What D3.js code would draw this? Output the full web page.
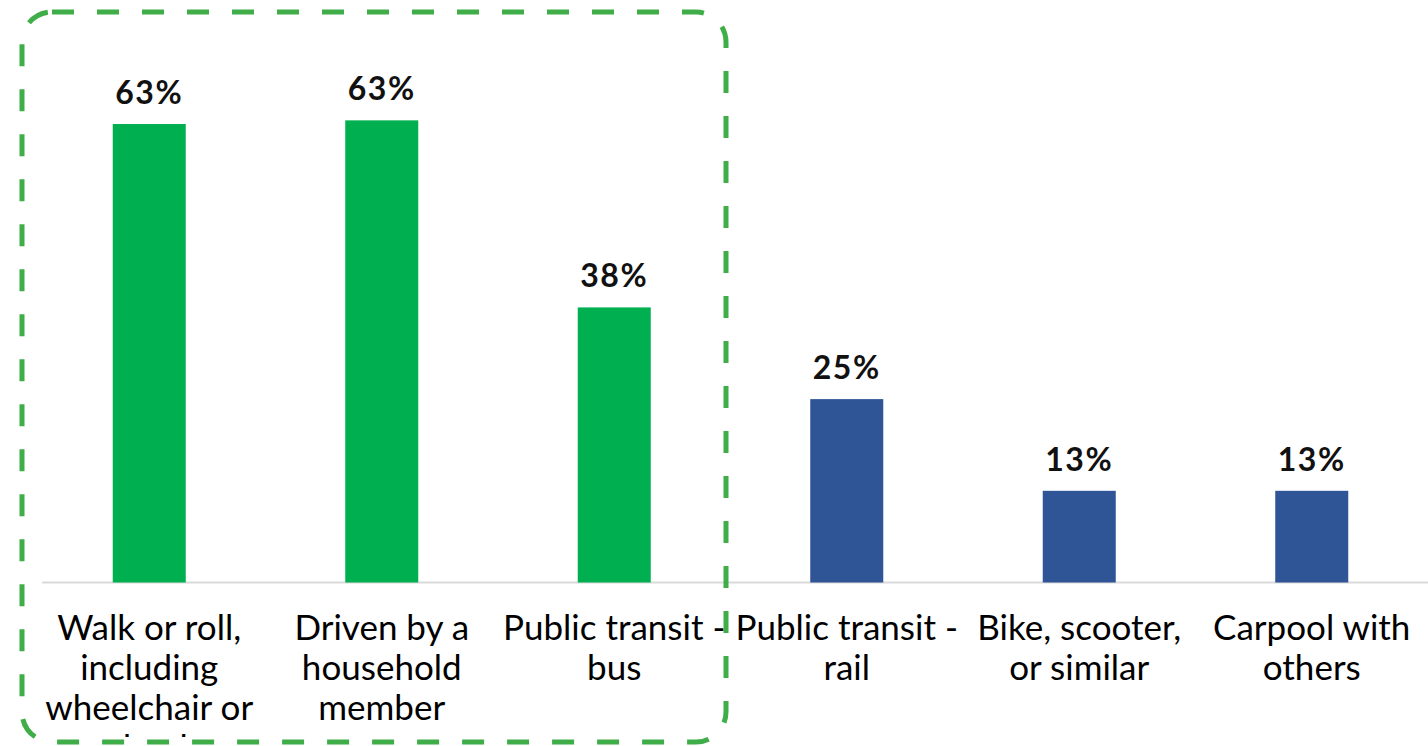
<!DOCTYPE html>
<html><head><meta charset="utf-8">
<script src="https://cdn.jsdelivr.net/npm/d3@7"></script>
<style>html,body{margin:0;padding:0;background:#fff;}svg{display:block;}</style>
</head><body>
<svg id="chart" width="1428" height="746"></svg>
<script>
const categories = [
  ["Walk or roll,", "including", "wheelchair or", "wheels"],
  ["Driven by a", "household", "member"],
  ["Public transit -", "bus"],
  ["Public transit -", "rail"],
  ["Bike, scooter,", "or similar"],
  ["Carpool with", "others"]
];
const values = [62.5, 63.0, 37.5, 25.0, 12.5, 12.5];
const highlighted = [true, true, true, false, false, false];
const valueLabels = values.map(v => Math.round(v) + "%");

const svg = d3.select("#chart");
const font = "Lato, 'Noto Sans', sans-serif";
const idx = d3.range(categories.length);

const x = d3.scaleBand().domain(idx).range([33, 1428]).paddingInner(0.686).paddingOuter(0.343);
const y = d3.scaleLinear().domain([0, 70]).range([582.5, 69]);

svg.append("defs").append("clipPath").attr("id", "plotclip")
  .append("rect").attr("x", 0).attr("y", 0).attr("width", 1428).attr("height", 737);

// baseline axis
svg.append("line").attr("x1", 42).attr("x2", 1428).attr("y1", y(0)).attr("y2", y(0))
  .attr("stroke", "#d9d9d9").attr("stroke-width", 2);

// bars
svg.selectAll("rect.bar").data(idx).join("rect").attr("class", "bar")
  .attr("x", i => x(i)).attr("width", x.bandwidth())
  .attr("y", i => y(values[i])).attr("height", i => y(0) - y(values[i]))
  .attr("fill", i => highlighted[i] ? "#00b050" : "#2f5597");

// value labels
svg.selectAll("text.val").data(idx).join("text").attr("class", "val")
  .attr("x", i => x(i) + x.bandwidth() / 2).attr("y", i => y(values[i]) - 20)
  .attr("text-anchor", "middle").attr("font-family", font).attr("font-weight", 700)
  .attr("font-size", 32).attr("letter-spacing", 1.5).attr("fill", "#111").text(i => valueLabels[i]);

// category labels
const catG = svg.append("g").attr("clip-path", "url(#plotclip)");
const cat = catG.selectAll("text.cat").data(idx).join("text").attr("class", "cat")
  .attr("text-anchor", "middle").attr("font-family", font).attr("font-size", 35).attr("fill", "#000");
cat.each(function(i) {
  d3.select(this).selectAll("tspan").data(categories[i]).join("tspan")
    .attr("x", x(i) + x.bandwidth() / 2).attr("y", (d, k) => 640 + 40 * k).text(d => d);
});

// dashed highlight box
svg.append("rect").attr("x", 22).attr("y", 12).attr("width", 704).attr("height", 730)
  .attr("rx", 30).attr("ry", 30).attr("fill", "none")
  .attr("stroke", "#3fae49").attr("stroke-width", 5).attr("stroke-dasharray", "22,23");
</script>
</body></html>
